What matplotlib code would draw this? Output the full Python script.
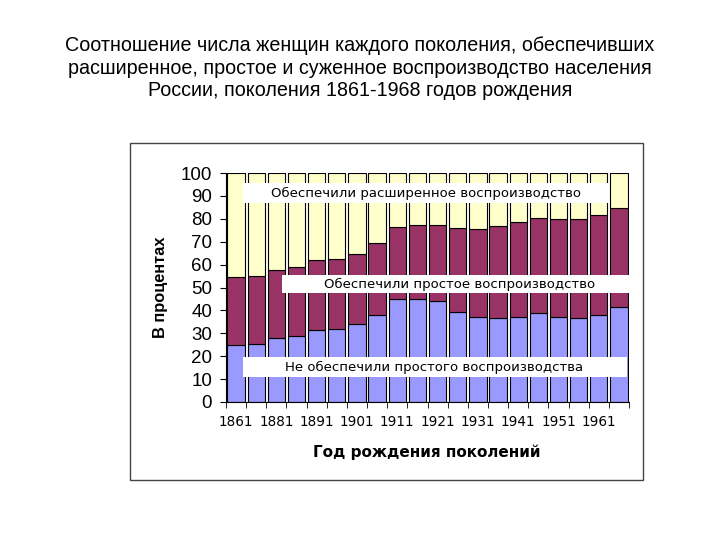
import matplotlib
matplotlib.use('Agg')
import matplotlib.pyplot as plt
from matplotlib.patches import Rectangle
import numpy as np

# доли (в процентах) по поколениям
years = ['1861', '1881', '1891', '1901', '1911', '1921', '1931', '1941', '1951', '1961']
not_simple = [25, 25.5, 28, 29, 31.5, 32, 34, 38, 45, 45,
              44, 39.5, 37, 36.5, 37, 39, 37, 36.5, 38, 41.5]
simple_top = [54.5, 55, 57.5, 59, 62, 62.5, 64.5, 69.5, 76.5, 77.5,
              77.5, 76, 75.5, 77, 78.5, 80.5, 80, 80, 81.5, 84.5]

blue = '#9999FF'
plum = '#993366'
yellow = '#FFFFCC'

title = ('Соотношение числа женщин каждого поколения, обеспечивших\n'
         'расширенное, простое и суженное воспроизводство населения\n'
         'России, поколения 1861-1968 годов рождения')

fig = plt.figure(figsize=(7.2, 5.4), dpi=100)
fig.text(0.5, 1 - 68 / 540, title, ha='center', va='center', fontsize=14.2,
         family='Liberation Sans', linespacing=1.25)

# рамка диаграммы
fig.patches.append(Rectangle((130 / 720, 1 - 480 / 540), 513 / 720, 337 / 540,
                             transform=fig.transFigure, fill=False,
                             edgecolor='#444444', lw=1))

ax = fig.add_axes([226 / 720, 1 - 402 / 540, 403 / 720, 229 / 540])

x = np.arange(len(not_simple))
low = np.array(not_simple)
top = np.array(simple_top)
w = 0.86
ax.bar(x, low, w, color=blue, edgecolor='black', lw=0.8)
ax.bar(x, top - low, w, bottom=low, color=plum, edgecolor='black', lw=0.8)
ax.bar(x, 100 - top, w, bottom=top, color=yellow, edgecolor='black', lw=0.8)

ax.set_xlim(-0.5, len(x) - 0.5)
ax.set_ylim(0, 100)
ax.set_yticks(range(0, 101, 10))
ax.tick_params(axis='y', labelsize=13.5, length=4, pad=6)
for t in ax.get_yticklabels():
    t.set_family('Liberation Sans')

ax.set_xticks(x[::2])
ax.set_xticklabels(years, fontsize=9.8)
ax.set_xticks(np.arange(-0.5, len(x)), minor=True)
ax.tick_params(axis='x', which='major', length=0, pad=9)
ax.tick_params(axis='x', which='minor', length=4, direction='out')

for s in ['top', 'right']:
    ax.spines[s].set_visible(False)

# подписи групп в белых плашках
boxes = [
    (0.34, 86.9, 18.16, 8.7, 9.43, 91.2, 'Обеспечили расширенное воспроизводство'),
    (2.28, 47.6, 17.22, 7.9, 11.1, 51.5, 'Обеспечили простое воспроизводство'),
    (0.34, 10.9, 19.06, 8.7, 9.85, 15.3, 'Не обеспечили простого воспроизводства'),
]
for bx, by, bw, bh, tx, ty, txt in boxes:
    ax.add_patch(Rectangle((bx, by), bw, bh, facecolor='white', edgecolor='none',
                           zorder=3, clip_on=False))
    ax.text(tx, ty, txt, ha='center', va='center', fontsize=9.5, zorder=4)

fig.text(160 / 720, 1 - 287 / 540, 'В процентах', rotation=90, ha='center',
         va='center', fontsize=11.8, fontweight='bold', family='Liberation Sans')
fig.text(427 / 720, 1 - 452 / 540, 'Год рождения поколений', ha='center',
         va='center', fontsize=11, fontweight='bold')

fig.savefig('out.png', dpi=100)
